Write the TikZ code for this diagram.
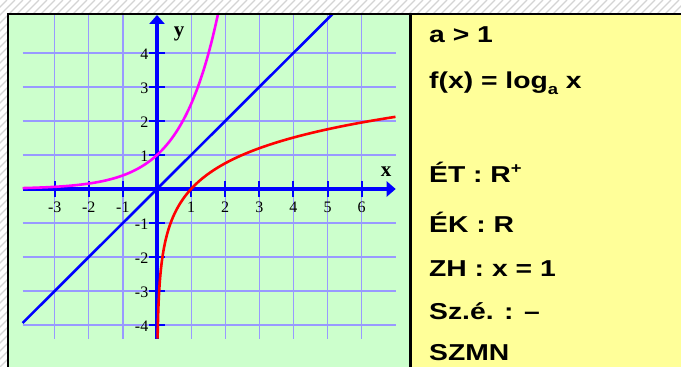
\documentclass[tikz,border=0pt]{standalone}
\usepackage{fontspec}
\setmainfont{Liberation Serif}
\newfontfamily\sansb{Liberation Sans}
\usetikzlibrary{arrows.meta}
\definecolor{gbg}{HTML}{CCFFCC}
\definecolor{ybg}{HTML}{FFFF99}
\definecolor{gridc}{HTML}{9999FF}
\definecolor{axc}{HTML}{0000FF}
\definecolor{hatchc}{HTML}{D4D4D4}
\definecolor{magc}{HTML}{FF00FF}
\definecolor{redc}{HTML}{FF0000}
\newcommand\infofont{\sansb\bfseries\fontsize{23}{23}\selectfont}
\newcommand\infoline[1]{\scalebox{1.23}[1]{#1}}
\begin{document}
\begin{tikzpicture}[x=1pt,y=-1pt,
  gridline/.style={draw=gridc, line width=1.2pt},
  axisline/.style={draw=axc, line width=3.5pt, -{Triangle[length=9pt,width=15pt]}},
  tickmark/.style={draw=axc, line width=2pt},
  ticklab/.style={font=\fontsize{16}{16}\selectfont, inner sep=0pt},
  axlab/.style={font=\fontsize{21}{21}\selectfont\bfseries, inner sep=0pt, anchor=base},
  info/.style={anchor=base west, inner sep=0pt, font=\infofont},
  curve/.style={line width=2.6pt},
  frameline/.style={draw=black, line width=2.6pt}]
\useasboundingbox (0,0) rectangle (681,367);
\fill[white] (0,0) rectangle (681,367);
\begin{scope}
  \clip (0,0) rectangle (681,367);
  \foreach \i in {-48,...,86} \draw[hatchc, line width=1.1pt] (\i*8,367) -- ++(367,-367);
\end{scope}
% panels
\fill[gbg] (8,14) rectangle (410.7,372);
\fill[ybg] (410.7,14) rectangle (690,372);
\coordinate (O) at (157,189);
% graph
\begin{scope}[shift={(O)}, x=34.1pt, y=34pt]
  \clip (-4.33,-5.3) rectangle (7.38,5.10);
  \foreach \k in {-4,...,-1,1,2,3,4} \draw[gridline] (-3.94,\k) -- (7,\k);
  \foreach \k in {-3,...,-1,1,2,...,6} \draw[gridline] (\k,-4.4) -- (\k,5.3);
  \draw[axisline] (-3.94,0) -- (7.0,0);
  \draw[axisline] (0,-4.4) -- (0,5.12);
  \foreach \k in {-3,...,-1,1,2,...,6} {
    \draw[tickmark] (\k,-0.24) -- (\k,0.24);
    \node[ticklab, anchor=base] at (\k,-0.70) {\k};
  }
  \foreach \k in {-4,...,-1,1,2,3,4} {
    \draw[tickmark] (-0.23,\k) -- (0.23,\k);
    \node[ticklab, anchor=base east] at (-0.25,\k-0.2) {\k};
  }
  \draw[curve, draw=axc] (-3.94,-3.94) -- (5.4,5.4);
  \draw[curve, draw=magc] plot[domain=-3.94:1.9, samples=120, smooth] (\x,{pow(2.5,\x)});
  \draw[curve, draw=redc] plot[domain=-4.4:2.124, samples=150, smooth] ({pow(2.5,\x)},\x);
  \node[axlab] (ylab) at (0.65,4.48) {y};
  \node[axlab] (xlab) at (6.72,0.38) {x};
\end{scope}
% frame lines
\draw[frameline] (8,372) -- (8,14) -- (690,14);
\draw[frameline] (410.7,14) -- (410.7,372);
% info text
\node[info] (t1) at (429,42.7) {\infoline{a > 1}};
\node[info] (t2) at (429,88) {\infoline{f(x) = log\raisebox{-0.28em}{\fontsize{15}{15}\selectfont a} x}};
\node[info] (t3) at (429,182.7) {\infoline{ÉT : R\raisebox{0.42em}{\fontsize{15}{15}\selectfont +}}};
\node[info] (t4) at (429,232.7) {\infoline{ÉK : R}};
\node[info] (t5) at (429,276) {\infoline{ZH : x = 1}};
\node[info] (t6) at (429,319) {\infoline{Sz.é. : –}};
\node[info] (t7) at (429,360) {\infoline{SZMN}};
\end{tikzpicture}
\end{document}
